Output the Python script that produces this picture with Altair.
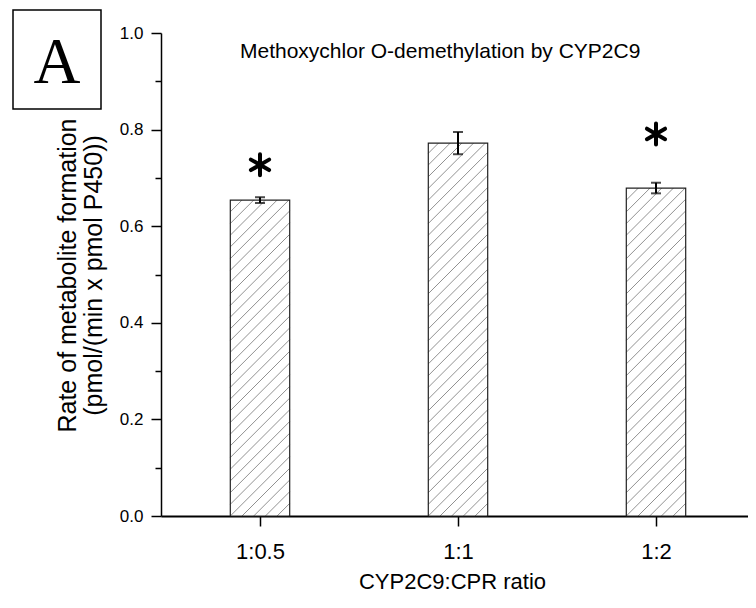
import json
import altair as alt
import pandas as pd

# ---- data ----
categories = ["1:0.5", "1:1", "1:2"]
positions = [1, 2, 3]
means = [0.654, 0.772, 0.679]
errors = [0.006, 0.023, 0.011]
star_positions = [1, 3]
star_values = [0.727, 0.791]
y_tick_values = [0.0, 0.1, 0.2, 0.3, 0.4, 0.5, 0.6, 0.7, 0.8, 0.9, 1.0]
chart_title = "Methoxychlor O-demethylation by CYP2C9"
x_title = "CYP2C9:CPR ratio"
y_title = ["Rate of metabolite formation", "(pmol/(min x pmol P450))"]
panel_label = "A"

W, H = 587, 483
PX_PER_X = 198.0                      # pixels per category step
x_domain = [0.5, 0.5 + W / PX_PER_X]  # axis runs on past the last bar
y_domain = [0.0, 1.0]
BAR_HALF = 0.15
HATCH_STEP_PX = 11.7
FONT = "Liberation Sans, Arial, sans-serif"

bars_df = pd.DataFrame({"cat": categories, "pos": positions, "mean": means, "err": errors})
bars_df["x0"] = bars_df["pos"] - BAR_HALF
bars_df["x1"] = bars_df["pos"] + BAR_HALF
bars_df["lo"] = bars_df["mean"] - bars_df["err"]
bars_df["hi"] = bars_df["mean"] + bars_df["err"]
bars_df["zero"] = 0.0

# hatch pattern (45 degree lines) derived from each bar's extent
px_x = W / (x_domain[1] - x_domain[0])
px_y = H / (y_domain[1] - y_domain[0])
rows = []
for _, b in bars_df.iterrows():
    w = 2 * BAR_HALF * px_x
    h = b["mean"] * px_y
    k = int(-w // HATCH_STEP_PX) - 1
    while k * HATCH_STEP_PX < h:
        c = k * HATCH_STEP_PX
        u0 = max(0.0, -c)
        u1 = min(w, h - c)
        if u1 - u0 > 0.5:
            rows.append({
                "hx0": b["x0"] + u0 / px_x,
                "hx1": b["x0"] + u1 / px_x,
                "hy0": (u0 + c) / px_y,
                "hy1": (u1 + c) / px_y,
            })
        k += 1
hatch_df = pd.DataFrame(rows)
stars_df = pd.DataFrame({"pos": star_positions, "val": star_values})

x_scale = alt.Scale(domain=x_domain, nice=False, zero=False)
y_scale = alt.Scale(domain=y_domain, nice=False, zero=True)

x_axis = alt.Axis(
    values=positions,
    labelExpr=json.dumps(categories) + "[round(datum.value) - 1]",
    title=x_title,
    titleFont=FONT, titleFontSize=22, titleFontWeight="normal", titleColor="black",
    titleX=291, titleY=72, titleAlign="center", titleBaseline="alphabetic",
    labelFont=FONT, labelFontSize=22, labelColor="black", labelPadding=15,
    tickSize=10, tickWidth=1.5, tickColor="black",
    domainColor="black", domainWidth=2, grid=False,
)
y_axis = alt.Axis(
    values=y_tick_values,
    labelExpr="round(datum.value * 10) % 2 == 0 ? format(datum.value, '.1f') : ''",
    title=y_title,
    titleFont=FONT, titleFontSize=25, titleFontWeight="normal", titleColor="black",
    titleLineHeight=26, titleX=-94, titleY=242, titleAlign="center", titleBaseline="middle",
    labelFont=FONT, labelFontSize=17, labelColor="black", labelPadding=8,
    tickSize={"condition": {"test": "round(datum.value * 10) % 2 == 0", "value": 10}, "value": 6},
    tickWidth=1.5, tickColor="black",
    domainColor="black", domainWidth=1.5, grid=False,
)


def X(field):
    return alt.X(field, scale=x_scale, axis=x_axis)


def Y(field):
    return alt.Y(field, scale=y_scale, axis=y_axis)


base = alt.Chart(bars_df)

bar_fill = base.mark_bar(fill="white").encode(x=X("x0:Q"), x2="x1:Q", y=Y("mean:Q"), y2="zero:Q")
hatch = alt.Chart(hatch_df).mark_rule(color="#858585", strokeWidth=0.9).encode(
    x=X("hx0:Q"), x2="hx1:Q", y=Y("hy0:Q"), y2="hy1:Q"
)
bar_outline = base.mark_bar(fillOpacity=0, stroke="#222222", strokeWidth=1.2).encode(
    x=X("x0:Q"), x2="x1:Q", y=Y("mean:Q"), y2="zero:Q"
)
err_rule = base.mark_rule(color="black", strokeWidth=2).encode(x=X("pos:Q"), y=Y("lo:Q"), y2="hi:Q")
cap_lo = base.mark_tick(orient="horizontal", size=10, thickness=2, color="black").encode(
    x=X("pos:Q"), y=Y("lo:Q")
)
cap_hi = base.mark_tick(orient="horizontal", size=10, thickness=2, color="black").encode(
    x=X("pos:Q"), y=Y("hi:Q")
)

STAR = "M0,-1L0,1M-0.866,-0.5L0.866,0.5M-0.866,0.5L0.866,-0.5"
stars = alt.Chart(stars_df).mark_point(
    shape=STAR, size=440, filled=False, stroke="black", strokeWidth=4, strokeCap="round", opacity=1
).encode(x=X("pos:Q"), y=Y("val:Q"))

panel_df = pd.DataFrame({"label": [panel_label]})
panel_box = alt.Chart(panel_df).mark_rect(fill="white", stroke="black", strokeWidth=1.5).encode(
    x=alt.value(-148), x2=alt.value(-60), y=alt.value(-23), y2=alt.value(76)
)
panel_text = alt.Chart(panel_df).mark_text(
    font="Liberation Serif, Times New Roman, serif", fontSize=65, color="black",
    align="center", baseline="alphabetic"
).encode(text="label:N", x=alt.value(-104), y=alt.value(50))

title_df = pd.DataFrame({"t": [chart_title]})
title_text = alt.Chart(title_df).mark_text(
    font=FONT, fontSize=21, color="black", align="left", baseline="alphabetic"
).encode(text="t:N", x=alt.value(79), y=alt.value(25))

chart = alt.layer(
    bar_fill, hatch, bar_outline, err_rule, cap_lo, cap_hi, stars, panel_box, panel_text, title_text
).properties(
    width=W,
    height=H,
    padding={"left": 153, "top": 25, "right": 0, "bottom": 80},
    autosize=alt.AutoSizeParams(type="none"),
).configure_view(stroke=None)

chart.save("out.html", embed_options={"renderer": "svg", "actions": False})
